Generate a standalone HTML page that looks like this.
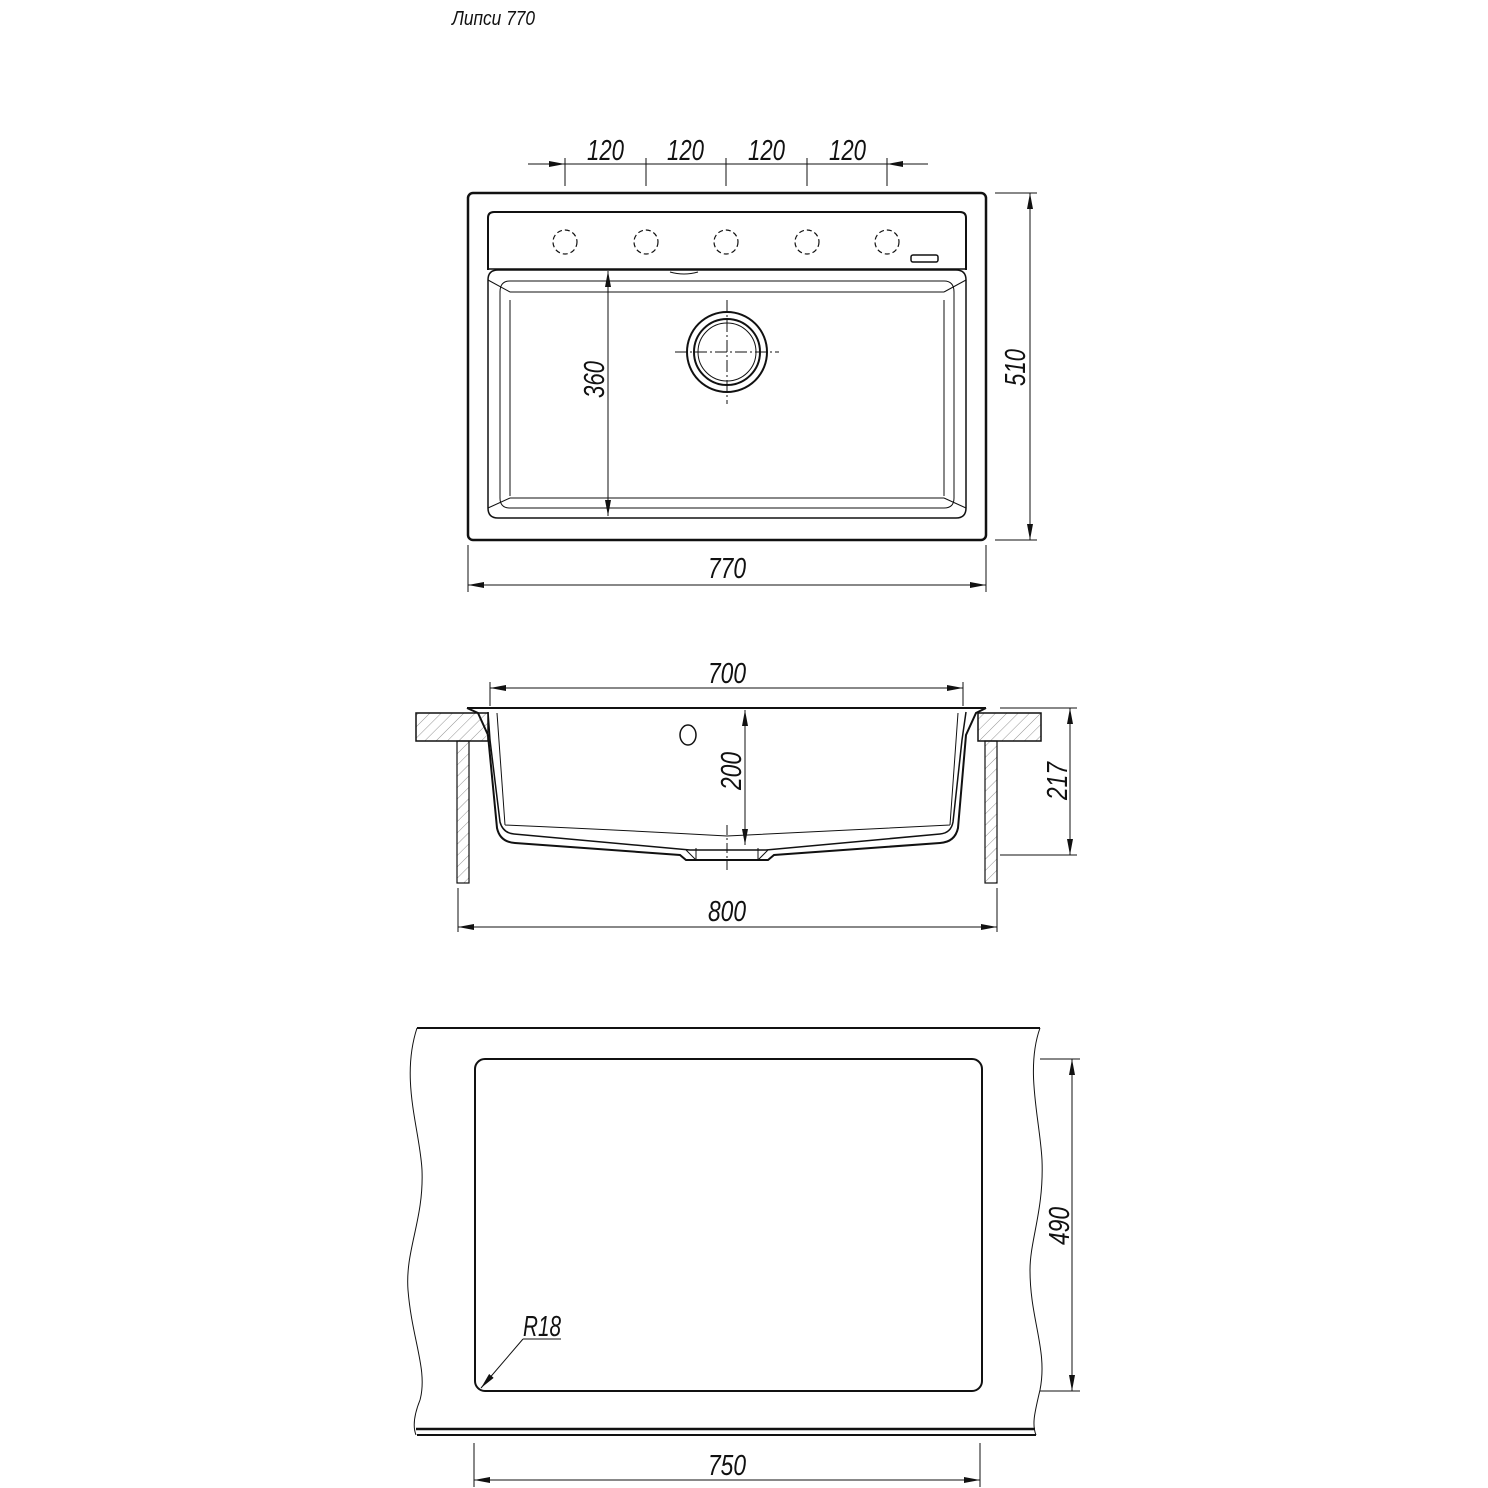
<!DOCTYPE html>
<html><head><meta charset="utf-8"><style>html,body{margin:0;padding:0;background:#fff}svg{display:block}text{font-family:"Liberation Sans",sans-serif;font-style:italic;fill:#111}</style></head>
<body>
<svg width="1488" height="1488" viewBox="0 0 1488 1488" xmlns="http://www.w3.org/2000/svg">
<defs>
<marker id="a" viewBox="0 0 16 6" refX="16" refY="3" markerWidth="16" markerHeight="6" markerUnits="userSpaceOnUse" orient="auto"><path d="M0,0 L16,3 L0,6 Z" fill="#111"/></marker>
<pattern id="h" patternUnits="userSpaceOnUse" width="8" height="8" patternTransform="rotate(45)"><line x1="0" y1="0" x2="0" y2="8" stroke="#777" stroke-width="0.8"/></pattern>
</defs>
<g fill="none" stroke="#111">
<text x="452" y="25" font-size="20" textLength="83" lengthAdjust="spacingAndGlyphs" stroke="none">Липси 770</text>

<!-- TOP VIEW -->
<rect x="468" y="193" width="518" height="347" rx="5" stroke-width="2.5"/>
<path d="M488,270 V218 Q488,212 494,212 H960 Q966,212 966,218 V270" stroke-width="2"/>
<line x1="488" y1="269" x2="966" y2="269" stroke-width="1.5"/>
<path d="M488,280 Q488,270 498,270 H956 Q966,270 966,280 V508 Q966,518 956,518 H498 Q488,518 488,508 Z" stroke-width="1.5"/>
<path d="M500,292 Q500,281 510,281 H944 Q954,281 954,292 V498 Q954,508 944,508 H510 Q500,508 500,498 Z" stroke-width="1"/>
<path d="M510,300 V496 M944,300 V496 M510,292 H944 M510,498 H944" stroke-width="1"/>
<path d="M488,280 L510,292 M966,280 L944,292 M488,508 L510,498 M966,508 L944,498" stroke-width="1"/>
<g stroke-dasharray="5,3" stroke-width="1.2">
<circle cx="565" cy="242" r="12"/><circle cx="646" cy="242" r="12"/><circle cx="726" cy="242" r="12"/><circle cx="807" cy="242" r="12"/><circle cx="887" cy="242" r="12"/>
</g>
<rect x="911" y="255" width="27" height="7" rx="2" stroke-width="1.5"/>
<path d="M670,272 Q684,276 698,272" stroke-width="1"/>
<circle cx="727" cy="352" r="40" stroke-width="2"/>
<circle cx="727" cy="352" r="33" stroke-width="2"/>
<circle cx="727" cy="352" r="29" stroke-width="1"/>
<path d="M727,300 V404 M675,352 H779" stroke-width="1" stroke-dasharray="12,3,2,3"/>
<line x1="528" y1="164" x2="565" y2="164" stroke-width="1" marker-end="url(#a)"/>
<line x1="928" y1="164" x2="887" y2="164" stroke-width="1" marker-end="url(#a)"/>
<line x1="565" y1="164" x2="887" y2="164" stroke-width="1"/>
<path d="M565,158 V186 M646,158 V186 M726,158 V186 M807,158 V186 M887,158 V186" stroke-width="1"/>
<g stroke="none" font-size="29">
<text x="587" y="160" textLength="37" lengthAdjust="spacingAndGlyphs">120</text><text x="667" y="160" textLength="37" lengthAdjust="spacingAndGlyphs">120</text><text x="748" y="160" textLength="37" lengthAdjust="spacingAndGlyphs">120</text><text x="829" y="160" textLength="37" lengthAdjust="spacingAndGlyphs">120</text>
</g>
<path d="M995,193 H1037 M995,540 H1037" stroke-width="1"/>
<line x1="1030" y1="366" x2="1030" y2="193" stroke-width="1" marker-end="url(#a)"/>
<line x1="1030" y1="366" x2="1030" y2="540" stroke-width="1" marker-end="url(#a)"/>
<text transform="translate(1025,386) rotate(-90)" font-size="29" stroke="none" textLength="37" lengthAdjust="spacingAndGlyphs">510</text>
<line x1="608" y1="394" x2="608" y2="271" stroke-width="1" marker-end="url(#a)"/>
<line x1="608" y1="394" x2="608" y2="516" stroke-width="1" marker-end="url(#a)"/>
<text transform="translate(604,398) rotate(-90)" font-size="29" stroke="none" textLength="37" lengthAdjust="spacingAndGlyphs">360</text>
<path d="M468,545 V592 M986,545 V592" stroke-width="1"/>
<line x1="727" y1="585" x2="468" y2="585" stroke-width="1" marker-end="url(#a)"/>
<line x1="727" y1="585" x2="986" y2="585" stroke-width="1" marker-end="url(#a)"/>
<text x="708" y="578" font-size="29" stroke="none" textLength="38" lengthAdjust="spacingAndGlyphs">770</text>

<!-- SIDE SECTION -->
<path d="M490,682 V706 M963,682 V706" stroke-width="1"/>
<line x1="727" y1="688" x2="490" y2="688" stroke-width="1" marker-end="url(#a)"/>
<line x1="727" y1="688" x2="963" y2="688" stroke-width="1" marker-end="url(#a)"/>
<text x="708" y="683" font-size="29" stroke="none" textLength="38" lengthAdjust="spacingAndGlyphs">700</text>
<rect x="416" y="713" width="72" height="28" fill="url(#h)" stroke-width="1.5"/>
<rect x="978" y="713" width="63" height="28" fill="url(#h)" stroke-width="1.5"/>
<rect x="457" y="741" width="12" height="142" fill="url(#h)" stroke-width="1.2"/>
<rect x="985" y="741" width="12" height="142" fill="url(#h)" stroke-width="1.2"/>
<line x1="467" y1="708" x2="986" y2="708" stroke-width="2"/>
<path d="M467,708 L478,713 L488,735 L497,828 Q500,842 515,843 L680,855 L686,860 H768 L774,855 L940,843 Q955,842 958,828 L966,735 L976,713 L986,708" stroke-width="2"/>
<path d="M488,712 L490,740 L500,822 Q503,833 514,834 L690,850 H766 L940,834 Q951,833 953,822 L962,740 L966,712" stroke-width="1.5"/>
<path d="M497,713 L505,825 M958,713 L950,825 M505,825 Q620,830 727,836 Q840,830 950,825" stroke-width="1"/>
<path d="M686,850 L696,860 M768,850 L758,860 M696,848 V860 M758,848 V860" stroke-width="1"/>
<ellipse cx="688" cy="735" rx="8" ry="10" stroke-width="1.5"/>
<path d="M727,825 V870" stroke-width="1" stroke-dasharray="10,3,2,3"/>
<line x1="745" y1="778" x2="745" y2="710" stroke-width="1" marker-end="url(#a)"/>
<line x1="745" y1="778" x2="745" y2="845" stroke-width="1" marker-end="url(#a)"/>
<text transform="translate(741,790) rotate(-90)" font-size="29" stroke="none" textLength="38" lengthAdjust="spacingAndGlyphs">200</text>
<path d="M1000,708 H1077 M1000,855 H1077" stroke-width="1"/>
<line x1="1070" y1="782" x2="1070" y2="708" stroke-width="1" marker-end="url(#a)"/>
<line x1="1070" y1="782" x2="1070" y2="855" stroke-width="1" marker-end="url(#a)"/>
<text transform="translate(1067,800) rotate(-90)" font-size="29" stroke="none" textLength="38" lengthAdjust="spacingAndGlyphs">217</text>
<path d="M458,888 V932 M997,888 V932" stroke-width="1"/>
<line x1="727" y1="927" x2="458" y2="927" stroke-width="1" marker-end="url(#a)"/>
<line x1="727" y1="927" x2="997" y2="927" stroke-width="1" marker-end="url(#a)"/>
<text x="708" y="921" font-size="29" stroke="none" textLength="38" lengthAdjust="spacingAndGlyphs">800</text>

<!-- BOTTOM VIEW -->
<line x1="417" y1="1028" x2="1040" y2="1028" stroke-width="2"/>
<line x1="416" y1="1429" x2="1035" y2="1429" stroke-width="2.5"/>
<line x1="417" y1="1435" x2="1036" y2="1435" stroke-width="2"/>
<path d="M417,1028 C400,1080 420,1130 422,1170 C424,1220 405,1250 408,1290 C412,1340 428,1370 420,1400 C412,1420 414,1430 416,1435" stroke-width="1"/>
<path d="M1040,1028 C1025,1070 1040,1120 1042,1160 C1044,1210 1030,1240 1030,1270 C1030,1320 1048,1350 1040,1390 C1034,1415 1032,1425 1036,1435" stroke-width="1"/>
<rect x="475" y="1059" width="507" height="332" rx="10" stroke-width="2"/>
<path d="M1040,1059 H1080 M1040,1391 H1080" stroke-width="1"/>
<line x1="1072" y1="1225" x2="1072" y2="1059" stroke-width="1" marker-end="url(#a)"/>
<line x1="1072" y1="1225" x2="1072" y2="1391" stroke-width="1" marker-end="url(#a)"/>
<text transform="translate(1069,1245) rotate(-90)" font-size="29" stroke="none" textLength="38" lengthAdjust="spacingAndGlyphs">490</text>
<text x="523" y="1336" font-size="29" stroke="none" textLength="38" lengthAdjust="spacingAndGlyphs">R18</text>
<line x1="523" y1="1339" x2="561" y2="1339" stroke-width="1"/>
<line x1="523" y1="1339" x2="481" y2="1388" stroke-width="1" marker-end="url(#a)"/>
<path d="M474,1443 V1487 M980,1443 V1487" stroke-width="1"/>
<line x1="727" y1="1480" x2="474" y2="1480" stroke-width="1" marker-end="url(#a)"/>
<line x1="727" y1="1480" x2="980" y2="1480" stroke-width="1" marker-end="url(#a)"/>
<text x="708" y="1475" font-size="29" stroke="none" textLength="38" lengthAdjust="spacingAndGlyphs">750</text>
</g>
</svg>
</body></html>
